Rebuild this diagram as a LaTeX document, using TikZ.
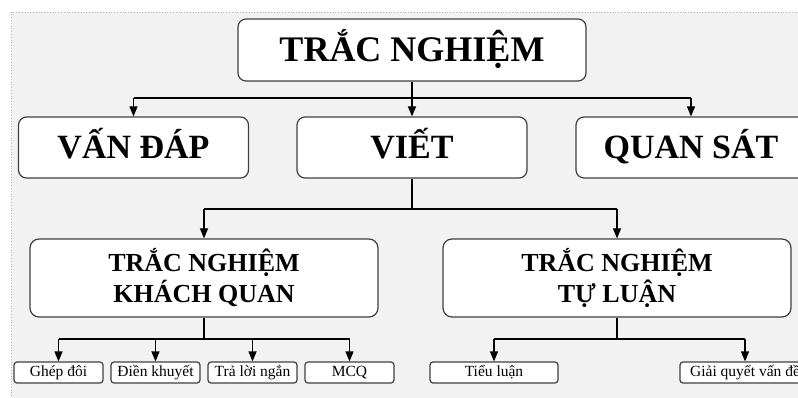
\documentclass[tikz,border=0pt]{standalone}
\usepackage{fontspec}
\setmainfont{Liberation Serif}
\usetikzlibrary{arrows.meta,positioning}
\definecolor{panelgray}{HTML}{F2F2F2}
\definecolor{boxline}{HTML}{404040}
\tikzset{%
  arrow/.style={line width=1.2pt,-{Triangle[length=10pt,width=8pt]}},
  link/.style={line width=1.2pt},
  box/.style={draw=boxline,line width=1.2pt,fill=white,inner sep=0pt},
  rootbox/.style={box,rounded corners=8pt,minimum width=348pt,minimum height=62pt,
    font=\bfseries\fontsize{36}{40}\selectfont,text height=24pt,text depth=0pt},
  kindbox/.style={box,rounded corners=8pt,minimum width=230pt,minimum height=61pt,
    font=\bfseries\fontsize{34}{40}\selectfont,text height=23pt,text depth=0pt},
  groupbox/.style={box,rounded corners=9pt,minimum width=348pt,minimum height=78pt,
    align=center,font=\bfseries\fontsize{26}{31}\selectfont},
  itembox/.style={box,rounded corners=3pt,minimum height=21pt,
    font=\fontsize{15.5}{17}\selectfont,text height=10pt,text depth=3pt},
}

\begin{document}
\begin{tikzpicture}[x=1pt,y=-1pt]
  \useasboundingbox (0,0) rectangle (798,398);
  \clip (0,0) rectangle (798,398);
  \fill[panelgray] (11,12) rectangle (810,410);
  \draw[gray!60,dotted,line width=0.8pt] (11,410) -- (11,12) -- (810,12);

  % top level
  \node[rootbox] (root) at (412,50) {TRẮC NGHIỆM};
  \node[kindbox] (vandap) at (133.5,147.5) {VẤN ĐÁP};
  \node[kindbox] (viet) at (412,147.5) {VIẾT};
  \node[kindbox] (quansat) at (691,147.5) {QUAN SÁT};

  % second level
  \node[groupbox] (khachquan) at (204,278) {TRẮC NGHIỆM\\KHÁCH QUAN};
  \node[groupbox] (tuluan) at (617,278) {TRẮC NGHIỆM\\TỰ LUẬN};

  % leaves
  \node[itembox,minimum width=89pt] (ghepdoi) at (58.5,372.5) {Ghép đôi};
  \node[itembox,minimum width=89pt] (dienkhuyet) at (155.5,372.5) {Điền khuyết};
  \node[itembox,minimum width=89pt] (traloi) at (252.5,372.5) {Trả lời ngắn};
  \node[itembox,minimum width=89pt] (mcq) at (349.5,372.5) {MCQ};
  \node[itembox,minimum width=128pt] (tieuluan) at (494,372.5) {Tiểu luận};
  \node[itembox,minimum width=130pt] (giaiquyet) at (745,372.5) {Giải quyết vấn đề};

  \coordinate (busA) at (412,98);
  \coordinate (busB) at (412,209);
  \coordinate (busC) at (204,339);
  \coordinate (busD) at (617,339);

  \draw[link] (vandap |- busA) -- (quansat |- busA);
  \draw[arrow] (root) -- (viet);
  \draw[arrow] (vandap |- busA) -- (vandap);
  \draw[arrow] (quansat |- busA) -- (quansat);

  \draw[link] (viet) -- (busB);
  \draw[link] (khachquan |- busB) -- (tuluan |- busB);
  \draw[arrow] (khachquan |- busB) -- (khachquan);
  \draw[arrow] (tuluan |- busB) -- (tuluan);

  \draw[link] (khachquan) -- (busC);
  \draw[link] (ghepdoi |- busC) -- (mcq |- busC);
  \draw[arrow] (ghepdoi |- busC) -- (ghepdoi);
  \draw[arrow] (dienkhuyet |- busC) -- (dienkhuyet);
  \draw[arrow] (traloi |- busC) -- (traloi);
  \draw[arrow] (mcq |- busC) -- (mcq);

  \draw[link] (tuluan) -- (busD);
  \draw[link] (tieuluan |- busD) -- (giaiquyet |- busD);
  \draw[arrow] (tieuluan |- busD) -- (tieuluan);
  \draw[arrow] (giaiquyet |- busD) -- (giaiquyet);
\end{tikzpicture}
\end{document}
